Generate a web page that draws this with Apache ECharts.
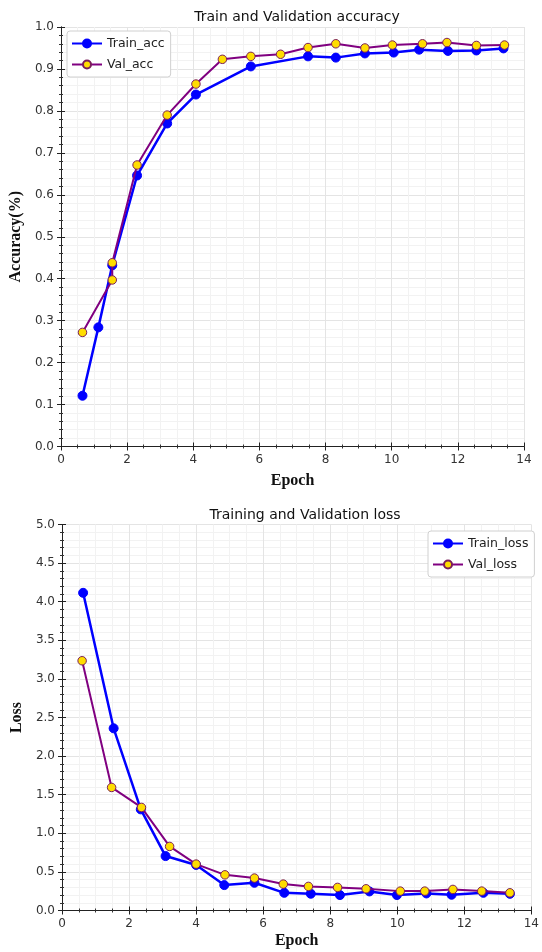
<!DOCTYPE html>
<html>
<head>
<meta charset="utf-8">
<script src="https://cdn.jsdelivr.net/npm/echarts@6/dist/echarts.min.js"></script>
<style>
html,body{margin:0;padding:0;background:#fff;}
#c{width:542px;height:952px;}
</style>
</head>
<body>
<div id="c"></div>
<script>
// ---- Data ----
const accEpochTrain = [0.65, 1.13, 1.55, 2.30, 3.21, 4.08, 5.74, 7.47, 8.31, 9.19, 10.06, 10.83, 11.70, 12.56, 13.38];
const accTrain      = [0.121, 0.284, 0.432, 0.646, 0.770, 0.839, 0.906, 0.930, 0.927, 0.937, 0.939, 0.946, 0.943, 0.944, 0.949];
const accEpochVal   = [0.65, 1.55, 1.55, 2.30, 3.21, 4.08, 4.88, 5.74, 6.64, 7.47, 8.31, 9.19, 10.02, 10.93, 11.67, 12.56, 13.41];
const accVal        = [0.272, 0.397, 0.438, 0.671, 0.790, 0.864, 0.923, 0.930, 0.935, 0.951, 0.960, 0.950, 0.957, 0.960, 0.963, 0.956, 0.957];

const lossEpochTrain = [0.63, 1.54, 2.35, 3.09, 4.00, 4.84, 5.74, 6.63, 7.42, 8.29, 9.17, 9.99, 10.87, 11.62, 12.57, 13.36];
const lossTrain      = [4.115, 2.36, 1.31, 0.705, 0.59, 0.329, 0.359, 0.229, 0.217, 0.200, 0.247, 0.200, 0.221, 0.204, 0.229, 0.216];
const lossEpochVal   = [0.60, 1.48, 2.37, 3.21, 4.00, 4.86, 5.74, 6.60, 7.35, 8.22, 9.07, 10.09, 10.82, 11.66, 12.52, 13.36];
const lossVal        = [3.235, 1.594, 1.335, 0.830, 0.601, 0.462, 0.420, 0.342, 0.312, 0.299, 0.281, 0.251, 0.251, 0.273, 0.251, 0.229];

const titles = ['Train and Validation accuracy', 'Training and Validation loss'];
const yNames = ['Accuracy(%)', 'Loss'];
const xName = 'Epoch';
const legendNames = [['Train_acc', 'Val_acc'], ['Train_loss', 'Val_loss']];

function pairs(xs, ys){ return xs.map((x,i)=>[x, ys[i]]); }

const chart = echarts.init(document.getElementById('c'), null, {renderer:'canvas'});

const tickLabel = {color:'#333', fontSize:12, fontFamily:'DejaVu Sans'};
const nameStyle = {color:'#111', fontSize:16, fontWeight:'bold', fontFamily:'Liberation Serif'};
const axisLine = {show:true, lineStyle:{color:'#222', width:1}};
const tick = {show:true, inside:true, length:4, lineStyle:{color:'#222'}};
const minorTick = (n)=>({show:true, splitNumber:n, length:2, lineStyle:{color:'#333'}});
const splitLine = {show:true, lineStyle:{color:'#e4e4e4', width:1}};
const minorSplit = {show:true, lineStyle:{color:'#f2f2f2', width:1}};

function mainX(gi, nameGap){
  return {type:'value', gridIndex:gi, min:0, max:14, interval:2, position:'bottom',
    axisLine, axisTick:tick, minorTick:minorTick(4), splitLine, minorSplitLine:minorSplit,
    axisLabel:Object.assign({margin:7}, tickLabel),
    name:xName, nameLocation:'middle', nameGap:nameGap, nameTextStyle:nameStyle};
}
function topX(gi){
  return {type:'value', gridIndex:gi, min:0, max:14, interval:2, position:'top',
    axisLine, axisTick:tick, minorTick:minorTick(4), splitLine:{show:false},
    axisLabel:{show:false}};
}
function mainY(gi, max, interval, minorN, name, nameGap){
  return {type:'value', gridIndex:gi, min:0, max:max, interval:interval, position:'left',
    axisLine, axisTick:tick, minorTick:minorTick(minorN), splitLine, minorSplitLine:minorSplit,
    axisLabel:Object.assign({margin:7, formatter:(v)=>v.toFixed(1)}, tickLabel),
    name:name, nameLocation:'middle', nameGap:nameGap, nameTextStyle:nameStyle};
}
function rightY(gi, max, interval, minorN){
  return {type:'value', gridIndex:gi, min:0, max:max, interval:interval, position:'right',
    axisLine, axisTick:tick, minorTick:minorTick(minorN), splitLine:{show:false},
    axisLabel:{show:false}};
}

function trainSeries(name, xi, yi, data){
  return {name, type:'line', xAxisIndex:xi, yAxisIndex:yi, data,
    symbol:'circle', symbolSize:9, lineStyle:{color:'#0000ff', width:2.5},
    itemStyle:{color:'#0000ff', borderColor:'#0000ff', borderWidth:1}, z:3, animation:false};
}
function valSeries(name, xi, yi, data){
  return {name, type:'line', xAxisIndex:xi, yAxisIndex:yi, data,
    symbol:'circle', symbolSize:8.5, lineStyle:{color:'#800080', width:2},
    itemStyle:{color:'#ffdd00', borderColor:'#7a1f5a', borderWidth:1}, z:4, animation:false};
}

const option = {
  backgroundColor:'#fff',
  animation:false,
  title:[
    {text:titles[0], left:292, top:5, textAlign:'center', textStyle:{fontSize:14, fontWeight:'normal', color:'#111', fontFamily:'DejaVu Sans'}},
    {text:titles[1], left:300, top:503, textAlign:'center', textStyle:{fontSize:14, fontWeight:'normal', color:'#111', fontFamily:'DejaVu Sans'}}
  ],
  legend:[
    {data:legendNames[0], orient:'vertical', left:67, top:31, itemWidth:30, itemHeight:10, itemGap:8,
      padding:[6,6,6,4], borderColor:'#d0d0d0', borderWidth:1, borderRadius:3, backgroundColor:'#fff',
      textStyle:{fontSize:12.5, color:'#222', fontFamily:'DejaVu Sans'}},
    {data:legendNames[1], orient:'vertical', left:428, top:531, itemWidth:30, itemHeight:10, itemGap:8,
      padding:[6,6,6,4], borderColor:'#d0d0d0', borderWidth:1, borderRadius:3, backgroundColor:'#fff',
      textStyle:{fontSize:12.5, color:'#222', fontFamily:'DejaVu Sans'}}
  ],
  grid:[
    {left:61, top:27, width:463, height:419.5},
    {left:62, top:524.5, width:475, height:386}
  ],
  xAxis:[ mainX(0, 26), topX(0), mainX(1, 22), topX(1) ],
  yAxis:[
    mainY(0, 1.0, 0.1, 5, yNames[0], 36),
    rightY(0, 1.0, 0.1, 5),
    mainY(1, 5.0, 0.5, 5, yNames[1], 36),
    rightY(1, 5.0, 0.5, 5)
  ],
  series:[
    trainSeries(legendNames[0][0], 0, 0, pairs(accEpochTrain, accTrain)),
    valSeries(legendNames[0][1], 0, 0, pairs(accEpochVal, accVal)),
    trainSeries(legendNames[1][0], 2, 2, pairs(lossEpochTrain, lossTrain)),
    valSeries(legendNames[1][1], 2, 2, pairs(lossEpochVal, lossVal))
  ]
};
chart.setOption(option);
</script>
</body>
</html>
